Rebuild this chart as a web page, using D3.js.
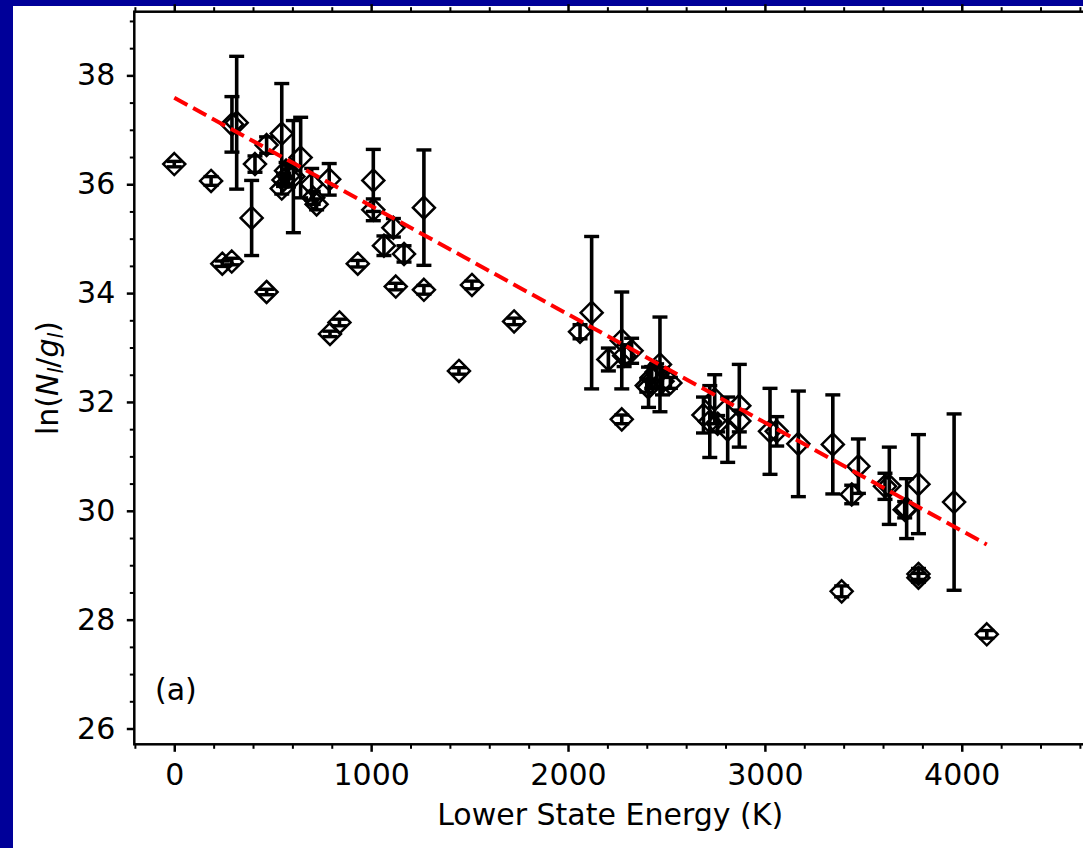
<!DOCTYPE html>
<html>
<head>
<meta charset="utf-8">
<script src="https://cdn.jsdelivr.net/npm/d3@7/dist/d3.min.js"></script>
<style>
  html, body { margin: 0; padding: 0; background: #000099; }
  svg { display: block; }
  text { font-family: "DejaVu Sans", sans-serif; fill: #000; }
</style>
</head>
<body>
<svg id="chart" width="1083" height="848"></svg>
<script>
// ---- data ----
const energy = [0, 187, 244, 292, 293, 317, 393, 410, 469, 469,
  546, 546, 555, 568, 580, 605, 642, 698, 706, 723,
  787, 791, 839, 932, 1011, 1011, 1065, 1113, 1125, 1167,
  1268, 1268, 1446, 1512, 1726, 2061, 2120, 2205, 2273, 2285,
  2323, 2273, 2400, 2409, 2425, 2450, 2467, 2480, 2520, 2688,
  2720, 2745, 2760, 2811, 2870, 2870, 3026, 3060, 3170, 3345,
  3390, 3441, 3475, 3610, 3632, 3710, 3720, 3780, 3780, 3780,
  3961, 4127];
const lnNg = [36.37, 36.06, 34.54, 34.58, 37.10, 37.13, 35.38, 36.37, 36.72, 34.02,
  36.93, 35.92, 36.08, 36.25, 36.15, 36.14, 36.49, 36.00, 35.75, 35.63,
  36.09, 33.25, 33.46, 34.54, 36.07, 35.53, 34.87, 35.20, 34.12, 34.72,
  35.57, 34.06, 32.57, 34.15, 33.48, 33.29, 33.64, 32.78, 33.13, 32.85,
  32.94, 31.68, 32.30, 32.27, 32.45, 32.55, 32.69, 32.38, 32.35, 31.76,
  31.64, 32.05, 31.60, 31.49, 31.93, 31.65, 31.46, 31.46, 31.23, 31.22,
  28.52, 30.30, 30.82, 30.45, 30.46, 30.02, 30.04, 30.49, 28.84, 28.77,
  30.16, 27.73];
const lnErr = [0.05, 0.08, 0.05, 0.06, 0.51, 1.22, 0.69, 0.15, 0.15, 0.05,
  0.92, 0.10, 0.12, 0.15, 0.20, 1.03, 0.74, 0.29, 0.12, 0.10,
  0.29, 0.05, 0.06, 0.06, 0.57, 0.20, 0.18, 0.17, 0.06, 0.15,
  1.06, 0.08, 0.06, 0.07, 0.06, 0.13, 1.40, 0.21, 0.89, 0.20,
  0.23, 0.08, 0.12, 0.37, 0.20, 0.15, 0.87, 0.25, 0.10, 0.33,
  0.66, 0.45, 0.15, 0.60, 0.76, 0.20, 0.79, 0.27, 0.97, 0.91,
  0.10, 0.17, 0.50, 0.24, 0.71, 0.15, 0.55, 0.91, 0.10, 0.08,
  1.62, 0.07];
const fitX = [0, 4127];
const fitY = [37.59, 29.38];
const xTicks = [0, 1000, 2000, 3000, 4000];
const yTicks = [26, 28, 30, 32, 34, 36, 38];
const xLabel = "Lower State Energy (K)";
const panelLabel = "(a)";

// ---- layout ----
const svg = d3.select("#chart");
const W = 1083, H = 848;
const plot = { left: 134.3, right: 1086, top: 11.7, bottom: 744.3 };

svg.append("rect").attr("width", W).attr("height", H).attr("fill", "#000099");
svg.append("rect").attr("x", 13).attr("y", 6).attr("width", W - 13).attr("height", H - 6).attr("fill", "#fff");

const x = d3.scaleLinear().domain([-203, 4631]).range([plot.left, plot.right]);
const y = d3.scaleLinear().domain([25.71, 39.17]).range([plot.bottom, plot.top]);

const fontSize = 30;
const axisW = 2.5;

// minor ticks
const xMinor = d3.range(-200, 4700, 200).filter(v => v % 1000 !== 0 && v >= -203 && v <= 4631);
const yMinor = d3.range(26, 39.2, 0.5).filter(v => v % 2 !== 0);

function styleAxis(g) {
  g.select(".domain").remove();
  g.selectAll("line").attr("stroke", "#000").attr("stroke-width", axisW);
  g.selectAll("text").style("font-size", fontSize + "px").style("font-family", "DejaVu Sans").attr("fill", "#000");
}

// bottom axis
const gx = svg.append("g").attr("transform", `translate(0,${plot.bottom})`)
  .call(d3.axisBottom(x).tickValues(xTicks).tickFormat(d3.format("d")).tickSize(7.5).tickPadding(12));
styleAxis(gx);
const gxm = svg.append("g").attr("transform", `translate(0,${plot.bottom})`)
  .call(d3.axisBottom(x).tickValues(xMinor).tickFormat("").tickSize(4.5));
styleAxis(gxm);
gxm.selectAll("line").attr("stroke-width", 2);

// top axis (ticks only)
const gt = svg.append("g").attr("transform", `translate(0,${plot.top})`)
  .call(d3.axisTop(x).tickValues(xTicks).tickFormat("").tickSize(7.5));
styleAxis(gt);
const gtm = svg.append("g").attr("transform", `translate(0,${plot.top})`)
  .call(d3.axisTop(x).tickValues(xMinor).tickFormat("").tickSize(4.5));
styleAxis(gtm);
gtm.selectAll("line").attr("stroke-width", 2);

// left axis
const gy = svg.append("g").attr("transform", `translate(${plot.left},0)`)
  .call(d3.axisLeft(y).tickValues(yTicks).tickFormat(d3.format("d")).tickSize(7.5).tickPadding(11.5));
styleAxis(gy);
const gym = svg.append("g").attr("transform", `translate(${plot.left},0)`)
  .call(d3.axisLeft(y).tickValues(yMinor).tickFormat("").tickSize(4.5));
styleAxis(gym);
gym.selectAll("line").attr("stroke-width", 2);

// spines
svg.append("rect")
  .attr("x", plot.left).attr("y", plot.top)
  .attr("width", plot.right - plot.left).attr("height", plot.bottom - plot.top)
  .attr("fill", "none").attr("stroke", "#000").attr("stroke-width", axisW);

// data
const pts = energy.map((e, i) => ({ e, v: lnNg[i], err: lnErr[i] }));
const gData = svg.append("g");
const capHalf = 7.5;
pts.forEach(p => {
  const cx = x(p.e), y1 = y(p.v + p.err), y2 = y(p.v - p.err);
  gData.append("line").attr("x1", cx).attr("x2", cx).attr("y1", y1).attr("y2", y2)
    .attr("stroke", "#000").attr("stroke-width", 3.6);
  [y1, y2].forEach(yy => gData.append("line")
    .attr("x1", cx - capHalf).attr("x2", cx + capHalf).attr("y1", yy).attr("y2", yy)
    .attr("stroke", "#000").attr("stroke-width", 3.4));
});
const r = 11;
gData.selectAll("path.mk").data(pts).enter().append("path")
  .attr("class", "mk")
  .attr("d", `M0,${-r}L${r},0L0,${r}L${-r},0Z`)
  .attr("transform", d => `translate(${x(d.e)},${y(d.v)})`)
  .attr("fill", "none").attr("stroke", "#000").attr("stroke-width", 2.5);

// fit line
svg.append("path")
  .datum(fitX.map((v, i) => [v, fitY[i]]))
  .attr("d", d3.line().x(d => x(d[0])).y(d => y(d[1])))
  .attr("fill", "none").attr("stroke", "#ff0000").attr("stroke-width", 4)
  .attr("stroke-dasharray", "15,6.5");

// labels
svg.append("text").attr("x", (plot.left + plot.right) / 2).attr("y", 825)
  .attr("text-anchor", "middle").style("font-size", fontSize + "px").text(xLabel);

const yl = svg.append("text")
  .attr("transform", `translate(58,${(plot.top + plot.bottom) / 2}) rotate(-90)`)
  .attr("text-anchor", "middle").style("font-size", fontSize + "px");
yl.append("tspan").text("ln(");
yl.append("tspan").style("font-style", "italic").text("N");
yl.append("tspan").style("font-style", "italic").style("font-size", "21px").attr("dy", 5).text("l");
yl.append("tspan").attr("dy", -5).text("/");
yl.append("tspan").style("font-style", "italic").text("g");
yl.append("tspan").style("font-style", "italic").style("font-size", "21px").attr("dy", 5).text("l");
yl.append("tspan").attr("dy", -5).text(")");

svg.append("text").attr("x", 155).attr("y", 700).style("font-size", fontSize + "px").text(panelLabel);
</script>
</body>
</html>
